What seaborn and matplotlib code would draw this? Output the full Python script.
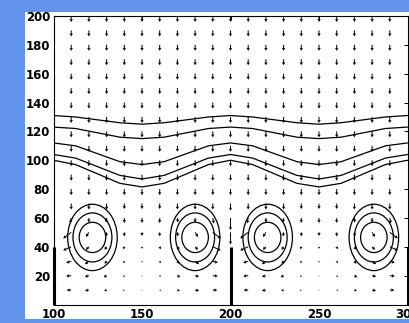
import numpy as np
import matplotlib.pyplot as plt
import seaborn as sns
from matplotlib.patches import Ellipse, Rectangle

# ---- data ----
# arrow tails
arrow_x = [110, 120, 130, 140, 150, 160, 170, 180, 190, 200,
           210, 220, 230, 240, 250, 260, 270, 280, 290]
arrow_y = [10, 20, 30, 40, 50, 60, 70, 80, 90, 100,
           110, 120, 130, 140, 150, 160, 170, 180, 190, 200]

# upper rows (y >= 80): straight down, length in screen pixels
upper_u = 0.0
upper_v = -6.0

# lower rows, components in screen pixels (nan = on the wall)
nan = np.nan
u70 = [0, 0, 0, 0, 0, 0, 0, 0, 0, 0, 0, 0, 0, 0, 0, 0, 0, 0, 0]
v70 = [-6, -6, -6, -5.5, -5.5, -5.5, -6, -6, -6, -7, -6, -6, -6, -5.5, -5.5, -5.5, -6, -6, -6]
u60 = [-1, 0, -0.5, 0, 0, 0, 0.5, 0, 1, 0, -1, 0, -0.5, 0, 0, 0, 0.5, 0, 1]
v60 = [-5.5, -4.5, -4.5, -5, -5, -5, -4.5, -4.5, -5.5, -12, -5.5, -4.5, -4.5, -5, -5, -5, -4.5, -4.5, -5.5]
u50 = [-8, -3, -0.5, 0, 0, 0, 0.5, 3, 8, 0, -8, -3, -0.5, 0, 0, 0, 0.5, 3, 8]
v50 = [-6, -4.5, -4, -4, -3.5, -4, -4, -4.5, -6, -12, -6, -4.5, -4, -4, -3.5, -4, -4, -4.5, -6]
u40 = [-8, -3, -2, -1, 0, 1, 2, 3, 8, nan, -8, -3, -2, -1, 0, 1, 2, 3, 8]
v40 = [-3.5, -3, -3, -2.5, -2, -2.5, -3, -3, -3.5, nan, -3.5, -3, -3, -2.5, -2, -2.5, -3, -3, -3.5]
u30 = [-5, -4, -2, -1, 0, 1, 2, 4, 5, nan, -5, -4, -2, -1, 0, 1, 2, 4, 5]
v30 = [-1.5, -3, -2.5, -2, -1.5, -2, -2.5, -3, -1.5, nan, -1.5, -3, -2.5, -2, -1.5, -2, -2.5, -3, -1.5]
u20 = [-5, -4, -3, -1, 0, 1, 3, 4, 5, nan, -5, -4, -3, -1, 0, 1, 3, 4, 5]
v20 = [-0.5, -1, -1.5, -1.5, -1, -1.5, -1.5, -1, -0.5, nan, -0.5, -1, -1.5, -1.5, -1, -1.5, -1.5, -1, -0.5]
u10 = [-4.5, -4, -2.5, -1.5, 0, 1.5, 2.5, 4, 4.5, nan, -4.5, -4, -2.5, -1.5, 0, 1.5, 2.5, 4, 4.5]
v10 = [0, -0.5, -0.5, -0.5, -0.5, -0.5, -0.5, -0.5, 0, nan, 0, -0.5, -0.5, -0.5, -0.5, -0.5, -0.5, -0.5, 0]

# wavy level lines
wave_x = [100, 112.5, 125, 137.5, 150, 162.5, 175, 187.5, 200,
          212.5, 225, 237.5, 250, 262.5, 275, 287.5, 300]
wave1 = [131, 130, 128, 126, 125, 126, 128, 130, 131, 130, 128, 126, 125, 126, 128, 130, 131]
wave2 = [123, 122, 119, 116, 115, 116, 119, 122, 123, 122, 119, 116, 115, 116, 119, 122, 123]
wave3 = [112, 110, 104.5, 99, 97, 99, 104.5, 110, 112, 110, 104.5, 99, 97, 99, 104.5, 110, 112]
wave4 = [104, 101.5, 95.5, 89.5, 87, 89.5, 95.5, 101.5, 104, 101.5, 95.5, 89.5, 87, 89.5, 95.5, 101.5, 104]
wave5 = [100, 97, 90.5, 84, 81.5, 84, 90.5, 97, 100, 97, 90.5, 84, 81.5, 84, 90.5, 97, 100]

# closed contours around the four cells
cell_x = [122, 180, 221, 281]
cell_y = 46.5
ring_rx = [7.5, 11, 14]
ring_ry = [10.5, 17, 23]

# thin walls on the floor
wall_x = [100, 200, 300]
wall_top = 40

# ---- figure ----
sns.set_style("white")
plt.rcParams['font.family'] = ['DejaVu Sans']

fig = plt.figure(figsize=(4.09, 3.23), dpi=100, facecolor='#6495ED')
fig.patches.append(Rectangle((25 / 409, 4 / 323), 1 - 25 / 409, 307 / 323,
                             transform=fig.transFigure, facecolor='white',
                             edgecolor='none', zorder=-1))
ax = fig.add_axes([53.5 / 409, 18.5 / 323, 354 / 409, 288.5 / 323])
ax.set_facecolor('white')

# arrows
lower = {10: (u10, v10), 20: (u20, v20), 30: (u30, v30), 40: (u40, v40),
         50: (u50, v50), 60: (u60, v60), 70: (u70, v70)}
X, Y = np.meshgrid(arrow_x, arrow_y)
U = np.full(X.shape, upper_u)
V = np.full(X.shape, upper_v)
for i, yy in enumerate(arrow_y):
    if yy in lower:
        U[i] = lower[yy][0]
        V[i] = lower[yy][1]
U = np.ma.masked_invalid(U)
V = np.ma.masked_invalid(V)
ax.quiver(X, Y, U, V, angles='uv', scale_units='dots', scale=1,
          units='dots', width=1.0, headwidth=3.5, headlength=3.0,
          headaxislength=2.6, pivot='tail', color='black', minlength=0.8,
          zorder=3)

# wavy lines
for w in [wave1, wave2, wave3, wave4, wave5]:
    sns.lineplot(x=wave_x, y=w, ax=ax, color='black', linewidth=0.9,
                 estimator=None, sort=False)

# rings
for cx in cell_x:
    for rx, ry in zip(ring_rx, ring_ry):
        ax.add_patch(Ellipse((cx, cell_y), 2 * rx, 2 * ry, fill=False,
                             edgecolor='black', linewidth=0.9))

# walls
ax.vlines(wall_x, 0, wall_top, color='black', linewidth=2.2, clip_on=False, zorder=4)

ax.set_xlim(100, 300)
ax.set_ylim(0, 200)
ax.set_xticks([100, 150, 200, 250, 300])
ax.set_yticks(range(20, 201, 20))
ax.tick_params(direction='in', length=3, width=0.7, top=True, right=True,
               labelsize=8.5, pad=2.5, colors='black')
for lab in ax.get_xticklabels() + ax.get_yticklabels():
    lab.set_fontweight('bold')
for s in ax.spines.values():
    s.set_linewidth(0.8)
    s.set_color('black')
ax.set_xlabel('')
ax.set_ylabel('')

fig.savefig('out.png', dpi=100, facecolor=fig.get_facecolor())
